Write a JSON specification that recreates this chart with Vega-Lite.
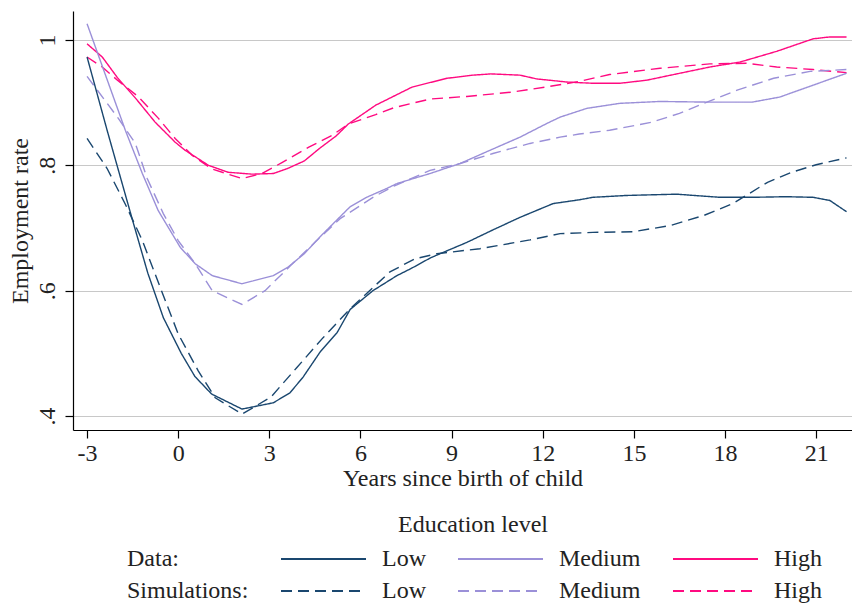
{
  "$schema": "https://vega.github.io/schema/vega-lite/v6.json",
  "width": 779,
  "height": 419,
  "autosize": {"type": "none"},
  "padding": {"left": 73, "top": 11, "right": 0, "bottom": 174},
  "background": "white",
  "config": {
    "font": "Liberation Serif",
    "view": {"stroke": null},
    "axis": {"labelFont": "Liberation Serif", "titleFont": "Liberation Serif", "labelFontSize": 24, "titleFontSize": 24, "labelColor": "#222", "titleColor": "#222", "titleFontWeight": "normal", "domainColor": "#000", "tickColor": "#000", "domainWidth": 1.2, "tickWidth": 1.2, "tickSize": 8},
    "legend": {"labelFont": "Liberation Serif", "titleFont": "Liberation Serif", "labelFontSize": 24, "titleFontSize": 24, "titleFontWeight": "normal", "labelColor": "#222", "titleColor": "#222"}
  },
  "data": {
    "values": [
      {"series": "Data High", "t": -3, "rate": 0.994},
      {"series": "Data High", "t": -2.5, "rate": 0.973},
      {"series": "Data High", "t": -2, "rate": 0.94},
      {"series": "Data High", "t": -1.4, "rate": 0.907},
      {"series": "Data High", "t": -0.76, "rate": 0.869},
      {"series": "Data High", "t": -0.1, "rate": 0.837},
      {"series": "Data High", "t": 0.23, "rate": 0.824},
      {"series": "Data High", "t": 1.0, "rate": 0.8},
      {"series": "Data High", "t": 1.64, "rate": 0.789},
      {"series": "Data High", "t": 2.43, "rate": 0.786},
      {"series": "Data High", "t": 3.13, "rate": 0.787},
      {"series": "Data High", "t": 3.6, "rate": 0.795},
      {"series": "Data High", "t": 4.15, "rate": 0.807},
      {"series": "Data High", "t": 4.65, "rate": 0.827},
      {"series": "Data High", "t": 5.2, "rate": 0.847},
      {"series": "Data High", "t": 5.6, "rate": 0.866},
      {"series": "Data High", "t": 6.5, "rate": 0.896},
      {"series": "Data High", "t": 7.7, "rate": 0.925},
      {"series": "Data High", "t": 8.85, "rate": 0.939},
      {"series": "Data High", "t": 9.7, "rate": 0.944},
      {"series": "Data High", "t": 10.3, "rate": 0.946},
      {"series": "Data High", "t": 11.25, "rate": 0.944},
      {"series": "Data High", "t": 11.8, "rate": 0.938},
      {"series": "Data High", "t": 12.8, "rate": 0.933},
      {"series": "Data High", "t": 13.65, "rate": 0.931},
      {"series": "Data High", "t": 14.54, "rate": 0.931},
      {"series": "Data High", "t": 15.43, "rate": 0.936},
      {"series": "Data High", "t": 16.41, "rate": 0.946},
      {"series": "Data High", "t": 17.5, "rate": 0.957},
      {"series": "Data High", "t": 18.5, "rate": 0.965},
      {"series": "Data High", "t": 19.7, "rate": 0.982},
      {"series": "Data High", "t": 20.9, "rate": 1.002},
      {"series": "Data High", "t": 21.45, "rate": 1.005},
      {"series": "Data High", "t": 22.0, "rate": 1.005},

      {"series": "Sim High", "t": -3, "rate": 0.973},
      {"series": "Sim High", "t": -2.5, "rate": 0.957},
      {"series": "Sim High", "t": -2, "rate": 0.936},
      {"series": "Sim High", "t": -1.3, "rate": 0.909},
      {"series": "Sim High", "t": -0.65, "rate": 0.875},
      {"series": "Sim High", "t": -0.1, "rate": 0.843},
      {"series": "Sim High", "t": 0.46, "rate": 0.816},
      {"series": "Sim High", "t": 1.12, "rate": 0.794},
      {"series": "Sim High", "t": 2.1, "rate": 0.779},
      {"series": "Sim High", "t": 2.76, "rate": 0.787},
      {"series": "Sim High", "t": 3.4, "rate": 0.804},
      {"series": "Sim High", "t": 4.3, "rate": 0.829},
      {"series": "Sim High", "t": 5.07, "rate": 0.848},
      {"series": "Sim High", "t": 5.6, "rate": 0.866},
      {"series": "Sim High", "t": 6.5, "rate": 0.881},
      {"series": "Sim High", "t": 7.1, "rate": 0.892},
      {"series": "Sim High", "t": 8.3, "rate": 0.906},
      {"series": "Sim High", "t": 9.5, "rate": 0.91},
      {"series": "Sim High", "t": 11.0, "rate": 0.917},
      {"series": "Sim High", "t": 12.1, "rate": 0.925},
      {"series": "Sim High", "t": 13.2, "rate": 0.934},
      {"series": "Sim High", "t": 14.2, "rate": 0.945},
      {"series": "Sim High", "t": 15.86, "rate": 0.955},
      {"series": "Sim High", "t": 17.5, "rate": 0.962},
      {"series": "Sim High", "t": 18.7, "rate": 0.963},
      {"series": "Sim High", "t": 19.7, "rate": 0.957},
      {"series": "Sim High", "t": 20.9, "rate": 0.953},
      {"series": "Sim High", "t": 22.0, "rate": 0.948},

      {"series": "Data Medium", "t": -3, "rate": 1.026},
      {"series": "Data Medium", "t": -1.74, "rate": 0.856},
      {"series": "Data Medium", "t": -1.18, "rate": 0.787},
      {"series": "Data Medium", "t": -0.66, "rate": 0.728},
      {"series": "Data Medium", "t": 0.07, "rate": 0.669},
      {"series": "Data Medium", "t": 0.56, "rate": 0.643},
      {"series": "Data Medium", "t": 1.12, "rate": 0.624},
      {"series": "Data Medium", "t": 2.1, "rate": 0.611},
      {"series": "Data Medium", "t": 3.13, "rate": 0.624},
      {"series": "Data Medium", "t": 3.6, "rate": 0.637},
      {"series": "Data Medium", "t": 4.15, "rate": 0.659},
      {"series": "Data Medium", "t": 4.67, "rate": 0.686},
      {"series": "Data Medium", "t": 5.66, "rate": 0.734},
      {"series": "Data Medium", "t": 6.2, "rate": 0.749},
      {"series": "Data Medium", "t": 6.86, "rate": 0.763},
      {"series": "Data Medium", "t": 7.2, "rate": 0.771},
      {"series": "Data Medium", "t": 8.29, "rate": 0.787},
      {"series": "Data Medium", "t": 9.28, "rate": 0.803},
      {"series": "Data Medium", "t": 10.26, "rate": 0.824},
      {"series": "Data Medium", "t": 11.25, "rate": 0.845},
      {"series": "Data Medium", "t": 12.14, "rate": 0.867},
      {"series": "Data Medium", "t": 12.57, "rate": 0.877},
      {"series": "Data Medium", "t": 13.45, "rate": 0.891},
      {"series": "Data Medium", "t": 14.54, "rate": 0.899},
      {"series": "Data Medium", "t": 15.86, "rate": 0.902},
      {"series": "Data Medium", "t": 17.4, "rate": 0.901},
      {"series": "Data Medium", "t": 18.9, "rate": 0.901},
      {"series": "Data Medium", "t": 19.8, "rate": 0.909},
      {"series": "Data Medium", "t": 20.9, "rate": 0.928},
      {"series": "Data Medium", "t": 22.0, "rate": 0.947},

      {"series": "Sim Medium", "t": -3, "rate": 0.942},
      {"series": "Sim Medium", "t": -1.97, "rate": 0.875},
      {"series": "Sim Medium", "t": -1.41, "rate": 0.835},
      {"series": "Sim Medium", "t": -1.02, "rate": 0.779},
      {"series": "Sim Medium", "t": -0.49, "rate": 0.723},
      {"series": "Sim Medium", "t": 0.0, "rate": 0.68},
      {"series": "Sim Medium", "t": 0.56, "rate": 0.643},
      {"series": "Sim Medium", "t": 1.12, "rate": 0.6},
      {"series": "Sim Medium", "t": 2.1, "rate": 0.578},
      {"series": "Sim Medium", "t": 2.86, "rate": 0.6},
      {"series": "Sim Medium", "t": 3.13, "rate": 0.613},
      {"series": "Sim Medium", "t": 3.7, "rate": 0.64},
      {"series": "Sim Medium", "t": 4.67, "rate": 0.685},
      {"series": "Sim Medium", "t": 5.33, "rate": 0.715},
      {"series": "Sim Medium", "t": 6.41, "rate": 0.749},
      {"series": "Sim Medium", "t": 7.1, "rate": 0.767},
      {"series": "Sim Medium", "t": 8.29, "rate": 0.792},
      {"series": "Sim Medium", "t": 9.28, "rate": 0.803},
      {"series": "Sim Medium", "t": 10.36, "rate": 0.819},
      {"series": "Sim Medium", "t": 11.58, "rate": 0.835},
      {"series": "Sim Medium", "t": 12.57, "rate": 0.845},
      {"series": "Sim Medium", "t": 13.2, "rate": 0.85},
      {"series": "Sim Medium", "t": 14.2, "rate": 0.856},
      {"series": "Sim Medium", "t": 15.6, "rate": 0.869},
      {"series": "Sim Medium", "t": 16.5, "rate": 0.883},
      {"series": "Sim Medium", "t": 17.3, "rate": 0.899},
      {"series": "Sim Medium", "t": 18.4, "rate": 0.92},
      {"series": "Sim Medium", "t": 19.6, "rate": 0.939},
      {"series": "Sim Medium", "t": 20.8, "rate": 0.95},
      {"series": "Sim Medium", "t": 22.0, "rate": 0.953},

      {"series": "Data Low", "t": -3, "rate": 0.973},
      {"series": "Data Low", "t": -2.34, "rate": 0.856},
      {"series": "Data Low", "t": -1.5, "rate": 0.712},
      {"series": "Data Low", "t": -1.0, "rate": 0.628},
      {"series": "Data Low", "t": -0.49, "rate": 0.557},
      {"series": "Data Low", "t": 0.1, "rate": 0.5},
      {"series": "Data Low", "t": 0.55, "rate": 0.463},
      {"series": "Data Low", "t": 1.1, "rate": 0.435},
      {"series": "Data Low", "t": 2.1, "rate": 0.411},
      {"series": "Data Low", "t": 3.13, "rate": 0.421},
      {"series": "Data Low", "t": 3.68, "rate": 0.437},
      {"series": "Data Low", "t": 4.11, "rate": 0.462},
      {"series": "Data Low", "t": 4.67, "rate": 0.502},
      {"series": "Data Low", "t": 5.23, "rate": 0.533},
      {"series": "Data Low", "t": 5.66, "rate": 0.57},
      {"series": "Data Low", "t": 6.41, "rate": 0.6},
      {"series": "Data Low", "t": 7.2, "rate": 0.624},
      {"series": "Data Low", "t": 7.73, "rate": 0.637},
      {"series": "Data Low", "t": 8.29, "rate": 0.652},
      {"series": "Data Low", "t": 8.62, "rate": 0.659},
      {"series": "Data Low", "t": 9.5, "rate": 0.677},
      {"series": "Data Low", "t": 10.36, "rate": 0.697},
      {"series": "Data Low", "t": 11.25, "rate": 0.717},
      {"series": "Data Low", "t": 12.34, "rate": 0.739},
      {"series": "Data Low", "t": 13.2, "rate": 0.745},
      {"series": "Data Low", "t": 13.65, "rate": 0.749},
      {"series": "Data Low", "t": 14.77, "rate": 0.752},
      {"series": "Data Low", "t": 16.41, "rate": 0.754},
      {"series": "Data Low", "t": 17.83, "rate": 0.749},
      {"series": "Data Low", "t": 18.9, "rate": 0.749},
      {"series": "Data Low", "t": 20.0, "rate": 0.75},
      {"series": "Data Low", "t": 20.9, "rate": 0.749},
      {"series": "Data Low", "t": 21.45, "rate": 0.744},
      {"series": "Data Low", "t": 22.0, "rate": 0.726},

      {"series": "Sim Low", "t": -3, "rate": 0.843},
      {"series": "Sim Low", "t": -2.34, "rate": 0.795},
      {"series": "Sim Low", "t": -1.74, "rate": 0.738},
      {"series": "Sim Low", "t": -1.18, "rate": 0.68},
      {"series": "Sim Low", "t": -0.59, "rate": 0.605},
      {"series": "Sim Low", "t": 0.0, "rate": 0.531},
      {"series": "Sim Low", "t": 0.66, "rate": 0.472},
      {"series": "Sim Low", "t": 1.22, "rate": 0.429},
      {"series": "Sim Low", "t": 2.1, "rate": 0.403},
      {"series": "Sim Low", "t": 3.05, "rate": 0.43},
      {"series": "Sim Low", "t": 3.9, "rate": 0.477},
      {"series": "Sim Low", "t": 4.77, "rate": 0.525},
      {"series": "Sim Low", "t": 5.66, "rate": 0.571},
      {"series": "Sim Low", "t": 6.3, "rate": 0.6},
      {"series": "Sim Low", "t": 6.97, "rate": 0.63},
      {"series": "Sim Low", "t": 7.8, "rate": 0.651},
      {"series": "Sim Low", "t": 8.52, "rate": 0.659},
      {"series": "Sim Low", "t": 9.93, "rate": 0.667},
      {"series": "Sim Low", "t": 11.58, "rate": 0.681},
      {"series": "Sim Low", "t": 12.57, "rate": 0.691},
      {"series": "Sim Low", "t": 13.65, "rate": 0.693},
      {"series": "Sim Low", "t": 14.97, "rate": 0.694},
      {"series": "Sim Low", "t": 16.2, "rate": 0.704},
      {"series": "Sim Low", "t": 17.3, "rate": 0.72},
      {"series": "Sim Low", "t": 18.26, "rate": 0.739},
      {"series": "Sim Low", "t": 19.4, "rate": 0.773},
      {"series": "Sim Low", "t": 20.2, "rate": 0.789},
      {"series": "Sim Low", "t": 21.0, "rate": 0.801},
      {"series": "Sim Low", "t": 22.0, "rate": 0.812}
    ]
  },
  "mark": {"type": "line", "strokeWidth": 1.4, "clip": true},
  "encoding": {
    "x": {
      "field": "t", "type": "quantitative",
      "scale": {"domain": [-3.463, 22.18], "nice": false, "zero": false},
      "axis": {"values": [-3, 0, 3, 6, 9, 12, 15, 18, 21], "labelExpr": "toString(datum.value)", "grid": false, "title": "Years since birth of child", "labelPadding": 3, "titlePadding": 1}
    },
    "y": {
      "field": "rate", "type": "quantitative",
      "scale": {"domain": [0.3776, 1.0464], "nice": false, "zero": false},
      "axis": {
        "values": [0.4, 0.6, 0.8, 1],
        "labelExpr": "datum.value == 1 ? '1' : replace(format(datum.value, '.1f'), '0.', '.')",
        "labelAngle": -90, "labelAlign": "center", "labelBaseline": "bottom", "labelPadding": 6,
        "grid": true, "gridColor": "#c8c8c8", "gridWidth": 1.2,
        "title": "Employment rate", "titlePadding": 3
      }
    },
    "color": {
      "field": "series", "type": "nominal",
      "scale": {
        "domain": ["Data:", "Data Low", "Data Medium", "Data High", "Simulations:", "Sim Low", "Sim Medium", "Sim High"],
        "range": ["transparent", "#1a476f", "#9b90d8", "#ff0a80", "transparent", "#1a476f", "#9b90d8", "#ff0a80"]
      },
      "legend": {
        "title": "Education level", "orient": "none", "legendX": 51, "legendY": 502, "direction": "horizontal", "columns": 4,
        "titleAnchor": "middle", "titlePadding": 10,
        "symbolType": "M0,0H17", "symbolSize": 100, "symbolStrokeWidth": 1.8,
        "labelOffset": 89, "columnPadding": 20, "rowPadding": 8,
        "labelExpr": "indexof(datum.label, ':') >= 0 ? datum.label : split(datum.label, ' ')[1]",
        "encode": {
          "labels": {"update": {"dx": {"signal": "indexof(datum.value, ':') >= 0 ? -110 : 0"}}}
        }
      }
    },
    "strokeDash": {
      "field": "series", "type": "nominal",
      "scale": {
        "domain": ["Data:", "Data Low", "Data Medium", "Data High", "Simulations:", "Sim Low", "Sim Medium", "Sim High"],
        "range": [[1, 0], [1, 0], [1, 0], [1, 0], [1, 0], [11, 6], [11, 6], [11, 6]]
      }
    }
  }
}
